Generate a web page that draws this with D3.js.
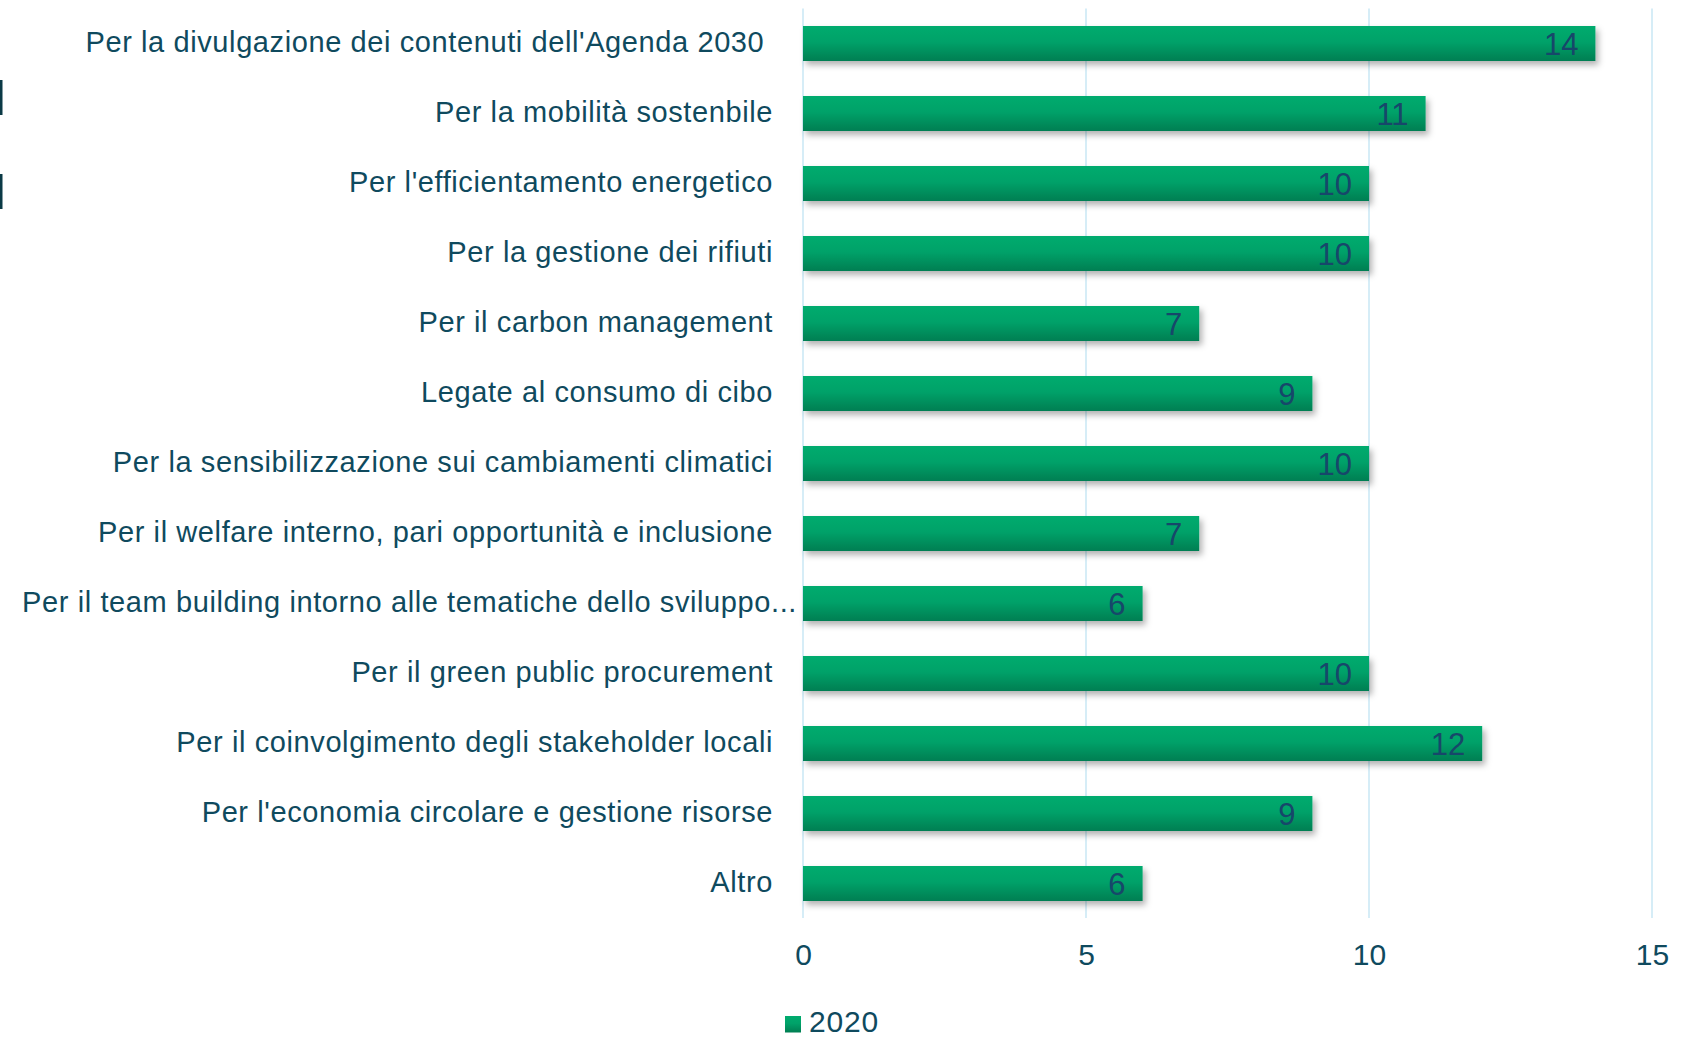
<!DOCTYPE html>
<html>
<head>
<meta charset="utf-8">
<script src="https://cdn.jsdelivr.net/npm/d3@7"></script>
<style>
  html, body { margin: 0; padding: 0; background: #fff; }
  svg { display: block; }
  text { font-family: "Liberation Sans", Arial, sans-serif; }
</style>
</head>
<body>
<svg id="chart" width="1696" height="1038"></svg>
<script>
'use strict';

const categories = [
  "Per la divulgazione dei contenuti dell'Agenda 2030 ",
  'Per la mobilità sostenbile',
  "Per l'efficientamento energetico",
  'Per la gestione dei rifiuti',
  'Per il carbon management',
  'Legate al consumo di cibo',
  'Per la sensibilizzazione sui cambiamenti climatici',
  'Per il welfare interno, pari opportunità e inclusione',
  'Per il team building intorno alle tematiche dello sviluppo...',
  'Per il green public procurement',
  'Per il coinvolgimento degli stakeholder locali',
  "Per l'economia circolare e gestione risorse",
  'Altro'
];

const values2020 = [14, 11, 10, 10, 7, 9, 10, 7, 6, 10, 12, 9, 6];

const xTicks = [0, 5, 10, 15];
const seriesName = '2020';

const textColor = '#0f4a5e';
const labelColor = '#17476a';
const gridColor = '#c8e7f5';

const svg = d3.select('#chart');

const x = d3.scaleLinear()
  .domain([0, 15])
  .range([803, 1652]);

const y = d3.scaleBand()
  .domain(categories)
  .range([8.5, 918.5])
  .paddingInner(0.5)
  .paddingOuter(0.25);

const defs = svg.append('defs');

const grad = defs.append('linearGradient')
  .attr('id', 'barGrad')
  .attr('x1', 0).attr('y1', 0)
  .attr('x2', 0).attr('y2', 1);
grad.append('stop').attr('offset', '0%').attr('stop-color', '#00ab6e');
grad.append('stop').attr('offset', '45%').attr('stop-color', '#00a269');
grad.append('stop').attr('offset', '100%').attr('stop-color', '#007e52');

const shadow = defs.append('filter')
  .attr('id', 'shadow')
  .attr('x', '-5%').attr('y', '-30%')
  .attr('width', '115%').attr('height', '180%');
shadow.append('feDropShadow')
  .attr('dx', 3).attr('dy', 4)
  .attr('stdDeviation', 3)
  .attr('flood-color', '#000')
  .attr('flood-opacity', 0.3);

// bits of a cut-off title at the left edge
svg.append('g')
  .selectAll('rect')
  .data([[80, 115], [174, 209]])
  .join('rect')
  .attr('x', 0)
  .attr('y', d => d[0])
  .attr('width', 2.5)
  .attr('height', d => d[1] - d[0])
  .attr('fill', '#0b3a46');

// grid
svg.append('g')
  .selectAll('line')
  .data(xTicks)
  .join('line')
  .attr('x1', d => x(d))
  .attr('x2', d => x(d))
  .attr('y1', 8.5)
  .attr('y2', 918)
  .attr('stroke', gridColor)
  .attr('stroke-width', 1.5);

// x axis labels
const xAxis = d3.axisBottom(x)
  .tickValues(xTicks)
  .tickSize(0)
  .tickPadding(0);

svg.append('g')
  .attr('transform', 'translate(0,945)')
  .call(xAxis)
  .call(g => g.select('.domain').remove())
  .call(g => g.selectAll('text')
    .attr('dy', '0.32em')
    .attr('y', 10)
    .attr('fill', textColor)
    .style('font-size', '30px')
    .style('font-family', '"Liberation Sans", Arial, sans-serif'));

// bars
svg.append('g')
  .selectAll('rect')
  .data(values2020)
  .join('rect')
  .attr('x', x(0))
  .attr('y', (d, i) => y(categories[i]))
  .attr('width', d => x(d) - x(0))
  .attr('height', y.bandwidth())
  .attr('fill', 'url(#barGrad)')
  .attr('filter', 'url(#shadow)');

// value labels
svg.append('g')
  .selectAll('text')
  .data(values2020)
  .join('text')
  .attr('x', d => x(d) - 17)
  .attr('y', (d, i) => y(categories[i]) + y.bandwidth() / 2)
  .attr('dy', '0.36em')
  .attr('text-anchor', 'end')
  .attr('fill', labelColor)
  .style('font-size', '31px')
  .text(d => d);

// category labels
svg.append('g')
  .selectAll('text')
  .data(categories)
  .join('text')
  .attr('x', d => d.endsWith('...') ? x(0) - 6 : x(0) - 30)
  .attr('y', d => y(d) + y.bandwidth() / 2)
  .attr('dy', '0.3em')
  .attr('text-anchor', 'end')
  .attr('fill', textColor)
  .style('font-size', '29px')
  .style('letter-spacing', '0.6px')
  .style('white-space', 'pre')
  .text(d => d);

// legend
const legend = svg.append('g')
  .attr('transform', 'translate(785,1016)');
legend.append('rect')
  .attr('width', 16)
  .attr('height', 16.5)
  .attr('fill', 'url(#barGrad)');
legend.append('text')
  .attr('x', 24)
  .attr('y', 15.5)
  .attr('fill', textColor)
  .style('font-size', '30px')
  .style('letter-spacing', '0.8px')
  .text(seriesName);
</script>
</body>
</html>
